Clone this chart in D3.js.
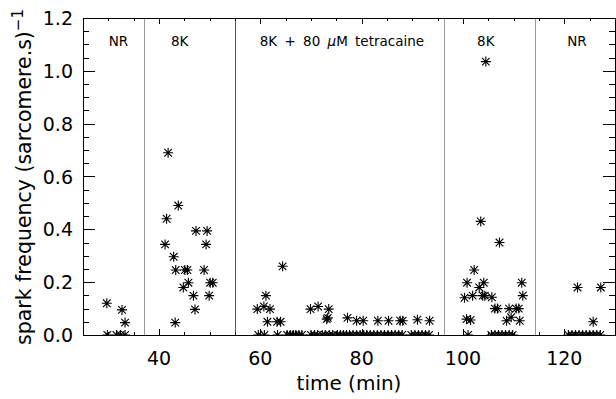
<!DOCTYPE html>
<html lang="en">
<head>
<meta charset="UTF-8">
<title>Spark frequency</title>
<script src="https://d3js.org/d3.v7.min.js"></script>
<style>
    body { margin: 0; padding: 0; background: #fff; }
    text { font-family: "DejaVu Sans", sans-serif; fill: #000; }
</style>
</head>
<body>
<div id="main"></div>
<script>
    // spark frequency readings, per condition (time in min, frequency per sarcomere.s)
    var nr1Time = [29.7, 32.7, 33.3, 29.8, 31.6, 32.4, 33.3];
    var nr1Freq = [0.12, 0.095, 0.047, 0, 0, 0, 0];

    var k1Time = [41.8, 43.8, 41.5, 47.3, 49.5, 41.2, 49.3, 42.9, 43.3, 45.1, 45.6, 48.9,
                  45.8, 44.8, 50.1, 50.6, 46.8, 49.9, 47.1, 43.2];
    var k1Freq = [0.69, 0.49, 0.44, 0.394, 0.394, 0.343, 0.343, 0.296, 0.246, 0.246, 0.246, 0.246,
                  0.198, 0.18, 0.198, 0.198, 0.149, 0.149, 0.097, 0.047];

    var tetTime = [64.4, 61.1, 59.4, 60.7, 61.9, 61.4, 63.3, 64.0, 69.9, 71.4, 73.5, 73.1, 73.3,
                   77.2, 79.0, 80.3, 83.2, 85.3, 87.6, 88.1, 91.0, 93.4,
                   59.6, 60.8, 63.4, 65.3, 65.9, 66.5, 67.0, 67.6, 68.2,
                   70.0, 70.7, 71.3, 72.2, 72.8, 73.6, 74.3, 75.2, 75.8,
                   76.4, 77.0, 77.6, 78.3, 79.0, 79.7, 80.4, 81.0, 81.7, 82.4, 83.1, 83.8,
                   84.5, 85.2, 85.9, 86.6, 87.3, 88.0, 89.8, 90.5, 91.2, 91.9, 92.6, 93.3];
    var tetFreq = [0.26, 0.149, 0.098, 0.108, 0.098, 0.05, 0.05, 0.05, 0.098, 0.108, 0.098, 0.06, 0.065,
                   0.065, 0.054, 0.054, 0.054, 0.054, 0.054, 0.054, 0.058, 0.054,
                   0, 0, 0, 0, 0, 0, 0, 0, 0,
                   0, 0, 0, 0, 0, 0, 0, 0, 0,
                   0, 0, 0, 0, 0, 0, 0, 0, 0, 0, 0, 0,
                   0, 0, 0, 0, 0, 0, 0, 0, 0, 0, 0, 0];

    var k2Time = [104.5, 103.5, 107.2, 102.2, 100.8, 104.1, 103.2, 111.6, 100.3, 101.9, 103.9, 104.3,
                  105.7, 111.8, 106.3, 106.8, 109.1, 110.5, 111.0, 100.7, 101.5, 108.6, 109.5, 111.2,
                  101.0, 105.6, 106.3, 107.0, 107.7, 108.4, 109.1, 109.8];
    var k2Freq = [1.035, 0.43, 0.35, 0.246, 0.198, 0.198, 0.18, 0.198, 0.141, 0.149, 0.149, 0.149,
                  0.143, 0.149, 0.1, 0.1, 0.1, 0.1, 0.1, 0.06, 0.057, 0.054, 0.067, 0.054,
                  0, 0, 0, 0, 0, 0, 0, 0];

    var nr2Time = [122.6, 127.2, 125.7, 120.8, 121.5, 122.2, 122.9, 123.6, 124.3, 125.0, 125.7, 126.4, 127.1];
    var nr2Freq = [0.18, 0.18, 0.05, 0, 0, 0, 0, 0, 0, 0, 0, 0, 0];

    // solution changes and their labels
    var changeTimes = [37, 55, 96.3, 114.3];
    var changeColors = ['#9a9a9a', '#555', '#9a9a9a', '#9a9a9a'];
    var condLabels = ['NR', '8K', '8K + 80 \u03bcM tetracaine', '8K', 'NR'];
    var condLabelTimes = [32, 44.1, 76.1, 104.5, 122.5];

    var xTicks = [40, 60, 80, 100, 120];
    var yTicks = [0, 0.2, 0.4, 0.6, 0.8, 1.0, 1.2];

    var width = 616, height = 399;
    var pLeft = 83, pRight = 615, pTop = 18, pBottom = 335;

    var svg = d3.select('#main').append('svg')
        .attr('width', width)
        .attr('height', height);

    var x = d3.scaleLinear().domain([25, 130]).range([pLeft, pRight]);
    var y = d3.scaleLinear().domain([0, 1.2]).range([pBottom, pTop]);

    svg.append('clipPath').attr('id', 'plotclip')
        .append('rect')
        .attr('x', pLeft).attr('y', pTop)
        .attr('width', pRight - pLeft).attr('height', pBottom - pTop);

    // condition change lines
    svg.selectAll('.change')
        .data(changeTimes)
        .enter().append('line')
        .attr('x1', d => Math.round(x(d)) + 0.5).attr('x2', d => Math.round(x(d)) + 0.5)
        .attr('y1', pTop).attr('y2', pBottom)
        .attr('stroke', (d, i) => changeColors[i])
        .attr('stroke-width', 1);

    // axes: ticks pointing inside on all four sides
    var minorX = d3.range(25, 131, 5);
    var minorY = d3.range(0, 1.201, 0.05);

    var axisG = svg.append('g').attr('stroke', '#000').attr('stroke-width', 1);

    minorX.forEach(function(t) {
        var major = xTicks.indexOf(t) >= 0;
        var len = major ? 6 : 3;
        var px = Math.round(x(t)) + 0.5;
        axisG.append('line').attr('x1', px).attr('x2', px).attr('y1', pBottom).attr('y2', pBottom - len);
        axisG.append('line').attr('x1', px).attr('x2', px).attr('y1', pTop).attr('y2', pTop + len);
    });

    minorY.forEach(function(v, i) {
        var major = i % 4 === 0;
        var len = major ? 12 : 6;
        var py = Math.round(y(v)) + 0.5;
        axisG.append('line').attr('x1', pLeft).attr('x2', pLeft + len).attr('y1', py).attr('y2', py);
        axisG.append('line').attr('x1', pRight).attr('x2', pRight - len).attr('y1', py).attr('y2', py);
    });

    axisG.append('rect')
        .attr('x', pLeft + 0.5).attr('y', pTop + 0.5)
        .attr('width', pRight - pLeft).attr('height', pBottom - pTop)
        .attr('fill', 'none');

    // tick labels
    svg.selectAll('.xlab')
        .data(xTicks)
        .enter().append('text')
        .attr('x', d => x(d))
        .attr('y', 365)
        .attr('text-anchor', 'middle')
        .style('font-size', '19px')
        .text(d => d);

    svg.selectAll('.ylab')
        .data(yTicks)
        .enter().append('text')
        .attr('x', 73)
        .attr('y', d => y(d) + 7)
        .attr('text-anchor', 'end')
        .style('font-size', '19px')
        .text(d => d.toFixed(1));

    // axis titles
    svg.append('text')
        .attr('x', (pLeft + pRight) / 2)
        .attr('y', 390)
        .attr('text-anchor', 'middle')
        .style('font-size', '20px')
        .text('time (min)');

    var yt = svg.append('text')
        .attr('transform', 'translate(31,177) rotate(-90)')
        .attr('text-anchor', 'middle')
        .style('font-size', '20.5px');
    yt.append('tspan').text('spark frequency (sarcomere.s)');
    yt.append('tspan').attr('dy', -8).style('font-size', '15px').text('\u22121');

    // condition labels
    var lab = svg.selectAll('.cond')
        .data(condLabels)
        .enter().append('text')
        .attr('x', (d, i) => x(condLabelTimes[i]))
        .attr('y', 46)
        .attr('text-anchor', 'middle')
        .style('font-size', '13.5px')
        .style('word-spacing', '3px');
    lab.each(function(d) {
        var t = d3.select(this);
        if (d.indexOf('\u03bc') >= 0) {
            var parts = d.split('\u03bc');
            t.append('tspan').text(parts[0]);
            t.append('tspan').style('font-style', 'italic').text('\u03bc');
            t.append('tspan').text(parts[1]);
        } else {
            t.text(d);
        }
    });

    // data as asterisks
    var allTime = nr1Time.concat(k1Time, tetTime, k2Time, nr2Time);
    var allFreq = nr1Freq.concat(k1Freq, tetFreq, k2Freq, nr2Freq);
    var pts = allTime.map((t, i) => [t, allFreq[i]]);

    var r = 5, d = 3.8;
    function star(p) {
        var cx = x(p[0]), cy = y(p[1]);
        return 'M' + (cx - r) + ',' + cy + 'L' + (cx + r) + ',' + cy +
            'M' + cx + ',' + (cy - r) + 'L' + cx + ',' + (cy + r) +
            'M' + (cx - d) + ',' + (cy - d) + 'L' + (cx + d) + ',' + (cy + d) +
            'M' + (cx - d) + ',' + (cy + d) + 'L' + (cx + d) + ',' + (cy - d);
    }

    svg.append('g')
        .attr('clip-path', 'url(#plotclip)')
        .selectAll('path')
        .data(pts)
        .enter().append('path')
        .attr('d', star)
        .attr('fill', 'none')
        .attr('stroke', '#000')
        .attr('stroke-width', 1.1);
</script>
</body>
</html>
